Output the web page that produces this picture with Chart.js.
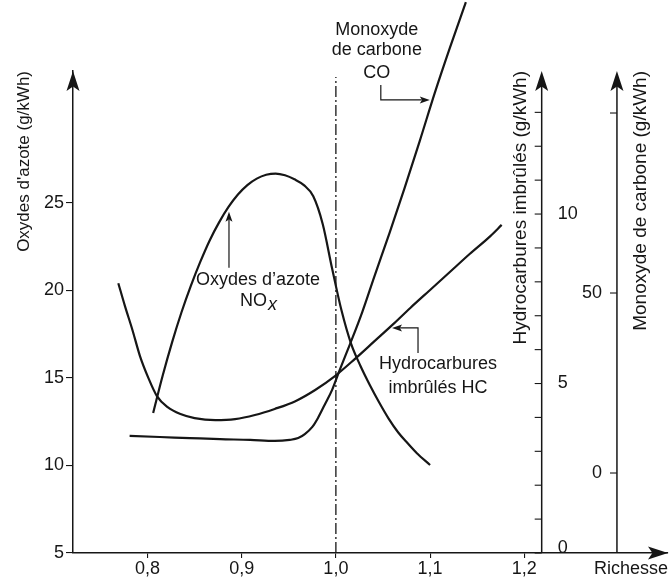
<!DOCTYPE html>
<html><head><meta charset="utf-8">
<script src="https://cdn.jsdelivr.net/npm/chart.js@4.4.1/dist/chart.umd.min.js"></script>
<style>html,body{margin:0;padding:0;background:#fff;}</style>
</head><body>
<canvas id="c" width="671" height="585" style="width:671px;height:585px;display:block"></canvas>
<script>
// ---------- data ----------
const xTicks = [0.8, 0.9, 1.0, 1.1, 1.2];
const noxTicks = [5, 10, 15, 20, 25];
const hcTicks = [0, 5, 10];
const hcMinorTicks = [0,1,2,3,4,5,6,7,8,9,10,11,12,13];
const coTicks = [0, 50];
const coMinorTicks = [0, 50, 100];

const noxRichesse = [0.806, 0.816, 0.826, 0.836, 0.846, 0.856, 0.866, 0.876, 0.886, 0.896, 0.906, 0.916, 0.926, 0.936, 0.946, 0.956, 0.966, 0.976, 0.986, 0.996, 1.006, 1.016, 1.026, 1.036, 1.046, 1.056, 1.066, 1.076, 1.086, 1.100];
const noxValues   = [13.00, 15.11, 17.02, 18.74, 20.26, 21.63, 22.86, 23.89, 24.77, 25.48, 26.02, 26.39, 26.61, 26.68, 26.58, 26.35, 26.02, 25.38, 23.80, 21.25, 18.85, 16.98, 15.70, 14.60, 13.60, 12.68, 11.90, 11.28, 10.70, 10.03];

const hcRichesse = [0.769, 0.776, 0.784, 0.792, 0.801, 0.810, 0.821, 0.835, 0.850, 0.872, 0.893, 0.914, 0.935, 0.957, 0.978, 0.999, 1.020, 1.041, 1.060, 1.079, 1.100, 1.121, 1.142, 1.164, 1.176];
const hcValues   = [7.96, 7.29, 6.58, 5.81, 5.16, 4.63, 4.31, 4.10, 3.98, 3.92, 3.95, 4.07, 4.25, 4.48, 4.81, 5.22, 5.72, 6.25, 6.73, 7.23, 7.76, 8.29, 8.82, 9.35, 9.68];

const coRichesse = [0.781, 0.813, 0.845, 0.877, 0.909, 0.935, 0.951, 0.960, 0.967, 0.975, 0.981, 0.988, 0.996, 1.004, 1.015, 1.028, 1.041, 1.057, 1.073, 1.089, 1.105, 1.121, 1.138];
const coValues   = [10.3, 10.0, 9.7, 9.4, 9.2, 8.9, 9.2, 9.7, 10.8, 12.8, 15.3, 18.9, 23.1, 28.6, 35.8, 44.7, 54.7, 66.7, 79.2, 92.2, 105.6, 118.1, 130.8];

const stoechX = [1.0, 1.0];
const stoechY = [5, 32.2];

// axis placements (in richesse units) and ranges
const xMin = 0.7209, xMax = 1.3526;
const noxMin = 5, noxMax = 32.54;
const hcMin = 0, hcMax = 14.22;
const coMin = -22.22, coMax = 111.67;
const hcAxisAt = 1.2185, coAxisAt = 1.2984;

const INK = '#161616';
const FONT = "'Liberation Sans', Arial, Helvetica, sans-serif";
Chart.defaults.font.family = FONT;
Chart.defaults.color = INK;

function pts(xs, ys){ return xs.map((x,i)=>({x, y: ys[i]})); }

function arrowHead(ctx, tx, ty, dir, len, half){
  ctx.beginPath();
  if (dir === 'up'){
    ctx.moveTo(tx, ty); ctx.lineTo(tx - half, ty + len); ctx.lineTo(tx, ty + len*0.78); ctx.lineTo(tx + half, ty + len);
  } else if (dir === 'right'){
    ctx.moveTo(tx, ty); ctx.lineTo(tx - len, ty - half); ctx.lineTo(tx - len*0.78, ty); ctx.lineTo(tx - len, ty + half);
  } else {
    ctx.moveTo(tx, ty); ctx.lineTo(tx + len, ty - half); ctx.lineTo(tx + len*0.78, ty); ctx.lineTo(tx + len, ty + half);
  }
  ctx.closePath(); ctx.fill();
}
function seg(ctx, x1, y1, x2, y2){ ctx.beginPath(); ctx.moveTo(x1,y1); ctx.lineTo(x2,y2); ctx.stroke(); }

const extraAxes = {
  id: 'extraAxes',
  afterDraw(chart){
    const ctx = chart.ctx, xs = chart.scales.x, yH = chart.scales.yHc, yC = chart.scales.yCo;
    const {top, bottom, left, right} = chart.chartArea;
    ctx.save();
    ctx.strokeStyle = INK; ctx.fillStyle = INK; ctx.lineWidth = 1.5;
    arrowHead(ctx, left, top, 'up', 20, 6.5);
    arrowHead(ctx, right, bottom, 'right', 20, 6.5);
    // HC axis
    const xh = xs.getPixelForValue(hcAxisAt);
    seg(ctx, xh, bottom, xh, top + 10);
    arrowHead(ctx, xh, top, 'up', 20, 6.5);
    ctx.lineWidth = 1.1;
    hcMinorTicks.forEach(v => { const py = yH.getPixelForValue(v); seg(ctx, xh - 7, py, xh, py); });
    ctx.font = '18px ' + FONT; ctx.textAlign = 'left'; ctx.textBaseline = 'middle';
    hcTicks.forEach(v => { const py = yH.getPixelForValue(v); ctx.fillText(String(v), xh + 16, v === 0 ? py - 5 : py); });
    // CO axis
    ctx.lineWidth = 1.5;
    const xc = xs.getPixelForValue(coAxisAt);
    seg(ctx, xc, bottom, xc, top + 10);
    arrowHead(ctx, xc, top, 'up', 20, 6.5);
    ctx.lineWidth = 1.1;
    coMinorTicks.forEach(v => { const py = yC.getPixelForValue(v); seg(ctx, xc - 7, py, xc, py); });
    ctx.textAlign = 'right';
    coTicks.forEach(v => { const py = yC.getPixelForValue(v); ctx.fillText(String(v), xc - 15, py); });
    // rotated titles
    ctx.font = '19px ' + FONT;
    ctx.textAlign = 'right'; ctx.textBaseline = 'middle';
    [[xh - 21, 'Hydrocarbures imbrûlés (g/kWh)'], [xc + 24, 'Monoxyde de carbone (g/kWh)']].forEach(([tx, t]) => {
      ctx.save(); ctx.translate(tx, top); ctx.rotate(-Math.PI/2); ctx.fillText(t, 0, 0); ctx.restore();
    });
    ctx.restore();
  }
};

// annotation anchors in data units (richesse, NOx scale)
const notes = {
  nox: {x: 0.9173, y1: 20.6, y2: 19.4, arrowX: 0.8865, arrowFrom: 21.3, arrowTo: 24.5},
  co:  {x: 1.0435, y: [34.89, 33.74, 32.43], ax: 1.0477, ay1: 31.74, ay2: 30.89, tipX: 1.0997},
  hc:  {x: 1.1084, y: [15.8, 14.43], ax: 1.0872, ay1: 16.43, ay2: 17.86, tipX: 1.0596}
};

const annotations = {
  id: 'notes',
  afterDraw(chart){
    const ctx = chart.ctx, xs = chart.scales.x, yN = chart.scales.yNox;
    const X = v => xs.getPixelForValue(v), Y = v => yN.getPixelForValue(v);
    ctx.save();
    ctx.fillStyle = INK; ctx.strokeStyle = INK; ctx.lineWidth = 1.2;
    ctx.font = '18px ' + FONT; ctx.textAlign = 'center'; ctx.textBaseline = 'middle';
    ctx.fillText("Oxydes d\u2019azote", X(notes.nox.x), Y(notes.nox.y1));
    const noW = ctx.measureText('NO').width;
    ctx.font = 'italic 18px ' + FONT;
    const xW = ctx.measureText('x').width;
    ctx.font = '18px ' + FONT;
    const sx = X(notes.nox.x) - (noW + xW)/2;
    ctx.textAlign = 'left';
    ctx.fillText('NO', sx, Y(notes.nox.y2));
    ctx.font = 'italic 18px ' + FONT;
    ctx.fillText('x', sx + noW + 1, Y(notes.nox.y2) + 4);
    ctx.font = '18px ' + FONT; ctx.textAlign = 'center';
    const ax = X(notes.nox.arrowX);
    seg(ctx, ax, Y(notes.nox.arrowFrom), ax, Y(notes.nox.arrowTo) + 8);
    arrowHead(ctx, ax, Y(notes.nox.arrowTo), 'up', 10, 3.5);
    ['Monoxyde', 'de carbone', 'CO'].forEach((t, i) => ctx.fillText(t, X(notes.co.x), Y(notes.co.y[i])));
    const cx = X(notes.co.ax);
    ctx.beginPath(); ctx.moveTo(cx, Y(notes.co.ay1)); ctx.lineTo(cx, Y(notes.co.ay2)); ctx.lineTo(X(notes.co.tipX) - 8, Y(notes.co.ay2)); ctx.stroke();
    arrowHead(ctx, X(notes.co.tipX), Y(notes.co.ay2), 'right', 10, 3.5);
    ['Hydrocarbures', 'imbrûlés HC'].forEach((t, i) => ctx.fillText(t, X(notes.hc.x), Y(notes.hc.y[i])));
    const hx = X(notes.hc.ax);
    ctx.beginPath(); ctx.moveTo(hx, Y(notes.hc.ay1)); ctx.lineTo(hx, Y(notes.hc.ay2)); ctx.lineTo(X(notes.hc.tipX) + 8, Y(notes.hc.ay2)); ctx.stroke();
    arrowHead(ctx, X(notes.hc.tipX), Y(notes.hc.ay2), 'left', 10, 3.5);
    ctx.restore();
  }
};

const curve = (data, axis) => ({
  data, yAxisID: axis, showLine: true, borderColor: INK, backgroundColor: INK,
  borderWidth: 2.2, pointRadius: 0, cubicInterpolationMode: 'monotone', clip: false, fill: false
});

new Chart(document.getElementById('c'), {
  type: 'scatter',
  data: {
    datasets: [
      curve(pts(noxRichesse, noxValues), 'yNox'),
      curve(pts(hcRichesse, hcValues), 'yHc'),
      curve(pts(coRichesse, coValues), 'yCo'),
      {data: pts(stoechX, stoechY), yAxisID: 'yNox', showLine: true, borderColor: INK, borderWidth: 1.3,
       borderDash: [11, 3, 2, 3], pointRadius: 0, fill: false}
    ]
  },
  options: {
    responsive: false, animation: false, devicePixelRatio: 1,
    layout: {padding: {top: 71, right: 3, left: 0, bottom: 0}},
    plugins: {legend: {display: false}, tooltip: {enabled: false}},
    scales: {
      x: {
        type: 'linear', position: 'bottom', min: xMin, max: xMax,
        afterBuildTicks: s => { s.ticks = xTicks.map(v => ({value: v})); },
        afterFit: s => { s.height = 32; },
        ticks: {callback: v => v.toFixed(1).replace('.', ','), font: {size: 18}, color: INK, padding: 0, maxRotation: 0, autoSkip: false},
        grid: {drawOnChartArea: false, drawTicks: true, tickLength: 5, color: INK, lineWidth: 1.1},
        border: {display: true, color: INK, width: 1.5},
        title: {display: true, text: 'Richesse', align: 'end', font: {size: 18}, color: INK, padding: {top: 0, bottom: 5}}
      },
      yNox: {
        type: 'linear', position: 'left', min: noxMin, max: noxMax,
        afterBuildTicks: s => { s.ticks = noxTicks.map(v => ({value: v})); },
        afterFit: s => { s.width = 73; },
        ticks: {font: {size: 18}, color: INK, padding: 2},
        grid: {drawOnChartArea: false, drawTicks: true, tickLength: 7, color: INK, lineWidth: 1.1},
        border: {display: true, color: INK, width: 1.5},
        title: {display: true, text: "Oxydes d'azote (g/kWh)", align: 'end', font: {size: 17}, color: INK, padding: {top: 14, bottom: 0}}
      },
      yHc: {type: 'linear', position: 'right', display: false, min: hcMin, max: hcMax},
      yCo: {type: 'linear', position: 'right', display: false, min: coMin, max: coMax}
    }
  },
  plugins: [extraAxes, annotations]
});
</script>
</body></html>
